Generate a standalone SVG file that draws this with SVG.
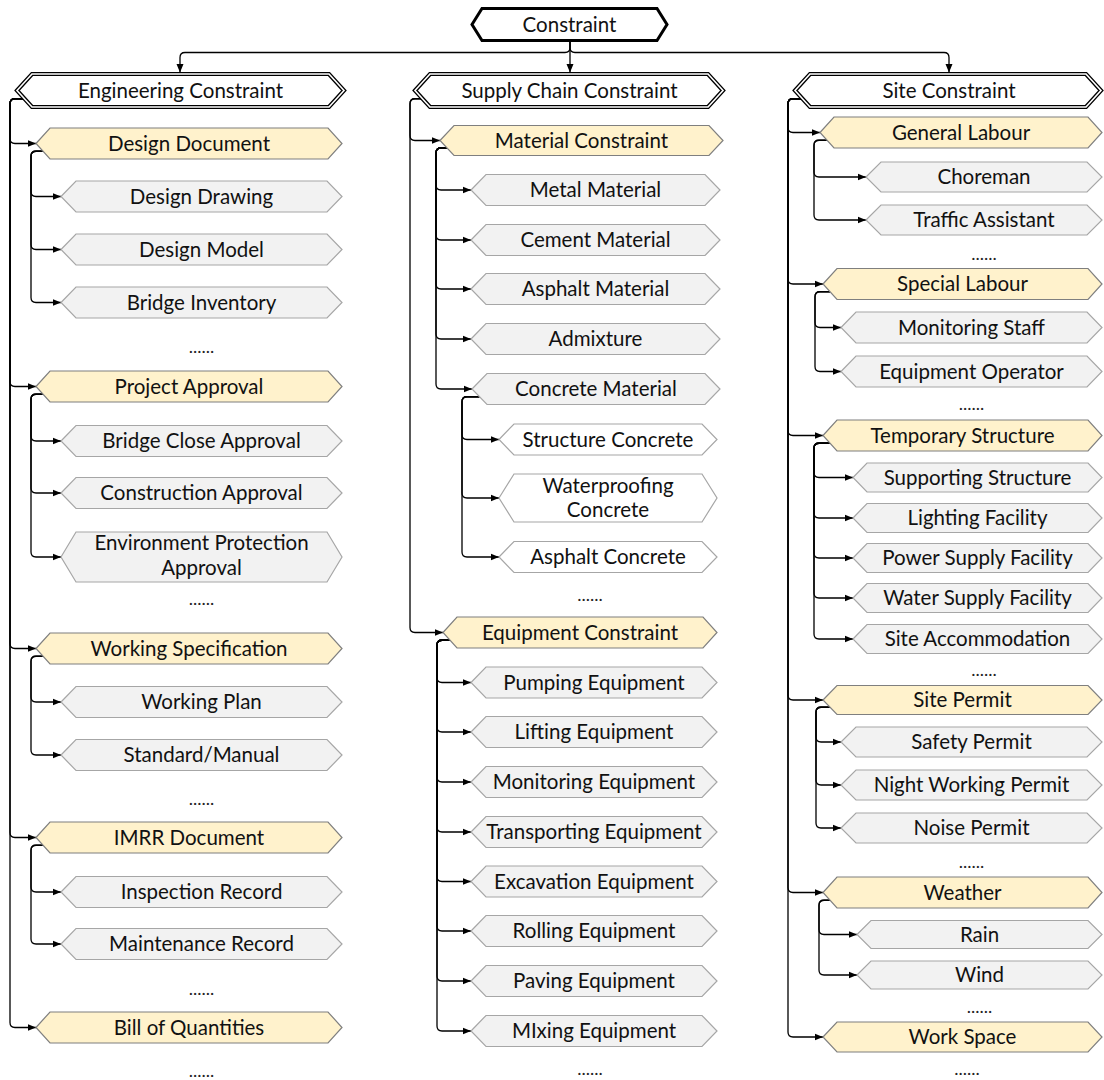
<svg xmlns="http://www.w3.org/2000/svg" width="1104" height="1080" viewBox="0 0 1104 1080">
  <defs>
    <marker id="arr" markerUnits="userSpaceOnUse" markerWidth="9" markerHeight="8" refX="8.5" refY="4" orient="auto">
      <path d="M0,0.5 L8.5,4 L0,7.5 z" fill="#000"/>
    </marker>
    <style>
      .root { fill: #fff; stroke: #000; stroke-width: 3; stroke-linejoin: miter; }
      .dbl-o { fill: #fff; stroke: #000; stroke-width: 4.2; }
      .dbl-i { fill: none; stroke: #fff; stroke-width: 1.6; }
      .y { fill: #FFF2CC; stroke: #7F7F7F; stroke-width: 1.2; }
      .g { fill: #F2F2F2; stroke: #A6A6A6; stroke-width: 1.2; }
      .w { fill: #FFFFFF; stroke: #A6A6A6; stroke-width: 1.2; }
      text { font-family: Lato, "Liberation Sans", sans-serif; font-size: 20.5px; fill: #111; text-anchor: middle; }
      .dots { font-size: 18px; fill: #222; }
      #links path { fill: none; stroke: #000; stroke-width: 1.3; marker-end: url(#arr); }
    </style>
  </defs>

  <!-- connectors -->
  <g id="links">
    <!-- root to the three constraint groups -->
    <path d="M570,40.5 V47.5 Q570,52.5 565,52.5 H185 Q180,52.5 180,57.5 V72.5"/>
    <path d="M570,40.5 V72.5"/>
    <path d="M570,40.5 V47.5 Q570,52.5 575,52.5 H944 Q949,52.5 949,57.5 V72.5"/>

    <!-- engineering constraint -->
    <path d="M24.5,98.75 H15 Q10,98.75 10,103.75 V138.5 Q10,143.5 15,143.5 H36"/>
    <path d="M24.5,98.75 H15 Q10,98.75 10,103.75 V381.5 Q10,386.5 15,386.5 H36"/>
    <path d="M24.5,98.75 H15 Q10,98.75 10,103.75 V643.5 Q10,648.5 15,648.5 H36"/>
    <path d="M24.5,98.75 H15 Q10,98.75 10,103.75 V832.5 Q10,837.5 15,837.5 H36"/>
    <path d="M24.5,98.75 H15 Q10,98.75 10,103.75 V1022.5 Q10,1027.5 15,1027.5 H36"/>

    <path d="M43,151.25 H36 Q31,151.25 31,156.25 V191.5 Q31,196.5 36,196.5 H61"/>
    <path d="M43,151.25 H36 Q31,151.25 31,156.25 V244.5 Q31,249.5 36,249.5 H61"/>
    <path d="M43,151.25 H36 Q31,151.25 31,156.25 V297.5 Q31,302.5 36,302.5 H61"/>

    <path d="M43,394.25 H36 Q31,394.25 31,399.25 V436 Q31,441 36,441 H61"/>
    <path d="M43,394.25 H36 Q31,394.25 31,399.25 V488 Q31,493 36,493 H61"/>
    <path d="M43,394.25 H36 Q31,394.25 31,399.25 V552 Q31,557 36,557 H61"/>

    <path d="M43,656.25 H36 Q31,656.25 31,661.25 V697 Q31,702 36,702 H61"/>
    <path d="M43,656.25 H36 Q31,656.25 31,661.25 V750 Q31,755 36,755 H61"/>

    <path d="M43,845.25 H36 Q31,845.25 31,850.25 V887 Q31,892 36,892 H61"/>
    <path d="M43,845.25 H36 Q31,845.25 31,850.25 V939 Q31,944 36,944 H61"/>

    <!-- supply chain constraint -->
    <path d="M422.5,98.75 H415 Q410,98.75 410,103.75 V135.5 Q410,140.5 415,140.5 H440"/>
    <path d="M422.5,98.75 H415 Q410,98.75 410,103.75 V627.5 Q410,632.5 415,632.5 H443"/>

    <path d="M447,148 H441 Q436,148 436,153 V185 Q436,190 441,190 H471"/>
    <path d="M447,148 H441 Q436,148 436,153 V235 Q436,240 441,240 H471"/>
    <path d="M447,148 H441 Q436,148 436,153 V284 Q436,289 441,289 H471"/>
    <path d="M447,148 H441 Q436,148 436,153 V334 Q436,339 441,339 H471"/>
    <path d="M447,148 H441 Q436,148 436,153 V384 Q436,389 441,389 H472"/>

    <path d="M479.5,396.75 H467 Q462,396.75 462,401.75 V434.5 Q462,439.5 467,439.5 H499"/>
    <path d="M479.5,396.75 H467 Q462,396.75 462,401.75 V493 Q462,498 467,498 H499"/>
    <path d="M479.5,396.75 H467 Q462,396.75 462,401.75 V552 Q462,557 467,557 H499"/>

    <path d="M450,640.25 H442 Q437,640.25 437,645.25 V677.5 Q437,682.5 442,682.5 H471"/>
    <path d="M450,640.25 H442 Q437,640.25 437,645.25 V727 Q437,732 442,732 H471"/>
    <path d="M450,640.25 H442 Q437,640.25 437,645.25 V777 Q437,782 442,782 H471"/>
    <path d="M450,640.25 H442 Q437,640.25 437,645.25 V827 Q437,832 442,832 H471"/>
    <path d="M450,640.25 H442 Q437,640.25 437,645.25 V876.5 Q437,881.5 442,881.5 H471"/>
    <path d="M450,640.25 H442 Q437,640.25 437,645.25 V926 Q437,931 442,931 H471"/>
    <path d="M450,640.25 H442 Q437,640.25 437,645.25 V976 Q437,981 442,981 H471"/>
    <path d="M450,640.25 H442 Q437,640.25 437,645.25 V1026 Q437,1031 442,1031 H471"/>

    <!-- site constraint -->
    <path d="M802.5,98.75 H793 Q788,98.75 788,103.75 V127.5 Q788,132.5 793,132.5 H820"/>
    <path d="M802.5,98.75 H793 Q788,98.75 788,103.75 V279 Q788,284 793,284 H823"/>
    <path d="M802.5,98.75 H793 Q788,98.75 788,103.75 V430.5 Q788,435.5 793,435.5 H823"/>
    <path d="M802.5,98.75 H793 Q788,98.75 788,103.75 V695 Q788,700 793,700 H823"/>
    <path d="M802.5,98.75 H793 Q788,98.75 788,103.75 V887.5 Q788,892.5 793,892.5 H823"/>
    <path d="M802.5,98.75 H793 Q788,98.75 788,103.75 V1032 Q788,1037 793,1037 H823"/>

    <path d="M827,140.25 H819 Q814,140.25 814,145.25 V172 Q814,177 819,177 H866"/>
    <path d="M827,140.25 H819 Q814,140.25 814,145.25 V215 Q814,220 819,220 H866"/>

    <path d="M830,291.75 H820 Q815,291.75 815,296.75 V322.5 Q815,327.5 820,327.5 H841"/>
    <path d="M830,291.75 H820 Q815,291.75 815,296.75 V366.5 Q815,371.5 820,371.5 H841"/>

    <path d="M830,443.25 H819 Q814,443.25 814,448.25 V472.5 Q814,477.5 819,477.5 H853"/>
    <path d="M830,443.25 H819 Q814,443.25 814,448.25 V513 Q814,518 819,518 H853"/>
    <path d="M830,443.25 H819 Q814,443.25 814,448.25 V553 Q814,558 819,558 H853"/>
    <path d="M830,443.25 H819 Q814,443.25 814,448.25 V593 Q814,598 819,598 H853"/>
    <path d="M830,443.25 H819 Q814,443.25 814,448.25 V634 Q814,639 819,639 H853"/>

    <path d="M830,707.25 H821 Q816,707.25 816,712.25 V737 Q816,742 821,742 H841"/>
    <path d="M830,707.25 H821 Q816,707.25 816,712.25 V780 Q816,785 821,785 H841"/>
    <path d="M830,707.25 H821 Q816,707.25 816,712.25 V823 Q816,828 821,828 H841"/>

    <path d="M830,900.25 H824 Q819,900.25 819,905.25 V929.5 Q819,934.5 824,934.5 H857"/>
    <path d="M830,900.25 H824 Q819,900.25 819,905.25 V970 Q819,975 824,975 H857"/>
  </g>

  <!-- root -->
  <g id="constraint">
    <polygon class="root" points="472,24.5 482,8.5 657,8.5 667,24.5 657,40.5 482,40.5"/>
    <text x="569.5" y="31.5">Constraint</text>
  </g>

  <!-- engineering constraint column -->
  <g id="engineering-constraint">
    <polygon class="dbl-o" points="17,90.5 32,74 329,74 344,90.5 329,107 32,107"/>
    <polygon class="dbl-i" points="17,90.5 32,74 329,74 344,90.5 329,107 32,107"/>
    <text x="180.5" y="97.5">Engineering Constraint</text>
  </g>
  <g id="design-document">
    <polygon class="y" points="36,143.5 50,128 328,128 342,143.5 328,159 50,159"/>
    <text x="189" y="150.5">Design Document</text>
  </g>
  <g id="design-drawing">
    <polygon class="g" points="61,196.5 76,181 327,181 342,196.5 327,212 76,212"/>
    <text x="201.5" y="203.5">Design Drawing</text>
  </g>
  <g id="design-model">
    <polygon class="g" points="61,249.5 76,234 327,234 342,249.5 327,265 76,265"/>
    <text x="201.5" y="256.5">Design Model</text>
  </g>
  <g id="bridge-inventory">
    <polygon class="g" points="61,302.5 76,287 327,287 342,302.5 327,318 76,318"/>
    <text x="201.5" y="309.5">Bridge Inventory</text>
  </g>
  <text class="dots" x="201.5" y="353">......</text>
  <g id="project-approval">
    <polygon class="y" points="36,386.5 50,371 328,371 342,386.5 328,402 50,402"/>
    <text x="189" y="393.5">Project Approval</text>
  </g>
  <g id="bridge-close-approval">
    <polygon class="g" points="61,441 76,425.5 327,425.5 342,441 327,456.5 76,456.5"/>
    <text x="201.5" y="448">Bridge Close Approval</text>
  </g>
  <g id="construction-approval">
    <polygon class="g" points="61,493 76,477.5 327,477.5 342,493 327,508.5 76,508.5"/>
    <text x="201.5" y="500">Construction Approval</text>
  </g>
  <g id="environment-protection-approval">
    <polygon class="g" points="61,557 76,532 327,532 342,557 327,582 76,582"/>
    <text x="201.5" y="549.5">Environment Protection</text>
    <text x="201.5" y="574.5">Approval</text>
  </g>
  <text class="dots" x="201.5" y="605">......</text>
  <g id="working-specification">
    <polygon class="y" points="36,648.5 50,633 328,633 342,648.5 328,664 50,664"/>
    <text x="189" y="655.5">Working Specification</text>
  </g>
  <g id="working-plan">
    <polygon class="g" points="61,702 76,686.5 327,686.5 342,702 327,717.5 76,717.5"/>
    <text x="201.5" y="709">Working Plan</text>
  </g>
  <g id="standard-manual">
    <polygon class="g" points="61,755 76,739.5 327,739.5 342,755 327,770.5 76,770.5"/>
    <text x="201.5" y="762">Standard/Manual</text>
  </g>
  <text class="dots" x="201.5" y="805">......</text>
  <g id="imrr-document">
    <polygon class="y" points="36,837.5 50,822 328,822 342,837.5 328,853 50,853"/>
    <text x="189" y="844.5">IMRR Document</text>
  </g>
  <g id="inspection-record">
    <polygon class="g" points="61,892 76,876.5 327,876.5 342,892 327,907.5 76,907.5"/>
    <text x="201.5" y="899">Inspection Record</text>
  </g>
  <g id="maintenance-record">
    <polygon class="g" points="61,944 76,928.5 327,928.5 342,944 327,959.5 76,959.5"/>
    <text x="201.5" y="951">Maintenance Record</text>
  </g>
  <text class="dots" x="201.5" y="995">......</text>
  <g id="bill-of-quantities">
    <polygon class="y" points="36,1027.5 50,1012 328,1012 342,1027.5 328,1043 50,1043"/>
    <text x="189" y="1034.5">Bill of Quantities</text>
  </g>
  <text class="dots" x="201.5" y="1077">......</text>

  <!-- supply chain constraint column -->
  <g id="supply-chain-constraint">
    <polygon class="dbl-o" points="415,90.5 430,74 708,74 723,90.5 708,107 430,107"/>
    <polygon class="dbl-i" points="415,90.5 430,74 708,74 723,90.5 708,107 430,107"/>
    <text x="569.5" y="97.5">Supply Chain Constraint</text>
  </g>
  <g id="material-constraint">
    <polygon class="y" points="440,140.5 454,125.5 709,125.5 723,140.5 709,155.5 454,155.5"/>
    <text x="581.5" y="147.5">Material Constraint</text>
  </g>
  <g id="metal-material">
    <polygon class="g" points="471,190 486,174.5 705,174.5 720,190 705,205.5 486,205.5"/>
    <text x="595.5" y="197">Metal Material</text>
  </g>
  <g id="cement-material">
    <polygon class="g" points="471,240 486,224.5 705,224.5 720,240 705,255.5 486,255.5"/>
    <text x="595.5" y="247">Cement Material</text>
  </g>
  <g id="asphalt-material">
    <polygon class="g" points="471,289 486,273.5 705,273.5 720,289 705,304.5 486,304.5"/>
    <text x="595.5" y="296">Asphalt Material</text>
  </g>
  <g id="admixture">
    <polygon class="g" points="471,339 486,323.5 705,323.5 720,339 705,354.5 486,354.5"/>
    <text x="595.5" y="346">Admixture</text>
  </g>
  <g id="concrete-material">
    <polygon class="g" points="472,389 487,373.5 705,373.5 720,389 705,404.5 487,404.5"/>
    <text x="596" y="396">Concrete Material</text>
  </g>
  <g id="structure-concrete">
    <polygon class="w" points="499,439.5 514,424 702,424 717,439.5 702,455 514,455"/>
    <text x="608" y="446.5">Structure Concrete</text>
  </g>
  <g id="waterproofing-concrete">
    <polygon class="w" points="499,498 514,474 702,474 717,498 702,522 514,522"/>
    <text x="608" y="492.5">Waterproofing</text>
    <text x="608" y="517">Concrete</text>
  </g>
  <g id="asphalt-concrete">
    <polygon class="w" points="499,557 514,541.5 702,541.5 717,557 702,572.5 514,572.5"/>
    <text x="608" y="564">Asphalt Concrete</text>
  </g>
  <text class="dots" x="590" y="601">......</text>
  <g id="equipment-constraint">
    <polygon class="y" points="443,632.5 457,617 703,617 717,632.5 703,648 457,648"/>
    <text x="580" y="639.5">Equipment Constraint</text>
  </g>
  <g id="pumping-equipment">
    <polygon class="g" points="471,682.5 486,667 702,667 717,682.5 702,698 486,698"/>
    <text x="594" y="689.5">Pumping Equipment</text>
  </g>
  <g id="lifting-equipment">
    <polygon class="g" points="471,732 486,716.5 702,716.5 717,732 702,747.5 486,747.5"/>
    <text x="594" y="739">Lifting Equipment</text>
  </g>
  <g id="monitoring-equipment">
    <polygon class="g" points="471,782 486,766.5 702,766.5 717,782 702,797.5 486,797.5"/>
    <text x="594" y="789">Monitoring Equipment</text>
  </g>
  <g id="transporting-equipment">
    <polygon class="g" points="471,832 486,816.5 702,816.5 717,832 702,847.5 486,847.5"/>
    <text x="594" y="839">Transporting Equipment</text>
  </g>
  <g id="excavation-equipment">
    <polygon class="g" points="471,881.5 486,866 702,866 717,881.5 702,897 486,897"/>
    <text x="594" y="888.5">Excavation Equipment</text>
  </g>
  <g id="rolling-equipment">
    <polygon class="g" points="471,931 486,915.5 702,915.5 717,931 702,946.5 486,946.5"/>
    <text x="594" y="938">Rolling Equipment</text>
  </g>
  <g id="paving-equipment">
    <polygon class="g" points="471,981 486,965.5 702,965.5 717,981 702,996.5 486,996.5"/>
    <text x="594" y="988">Paving Equipment</text>
  </g>
  <g id="mixing-equipment">
    <polygon class="g" points="471,1031 486,1015.5 702,1015.5 717,1031 702,1046.5 486,1046.5"/>
    <text x="594" y="1038">MIxing Equipment</text>
  </g>
  <text class="dots" x="590" y="1075">......</text>

  <!-- site constraint column -->
  <g id="site-constraint">
    <polygon class="dbl-o" points="795,90.5 810,74 1086,74 1101,90.5 1086,107 810,107"/>
    <polygon class="dbl-i" points="795,90.5 810,74 1086,74 1101,90.5 1086,107 810,107"/>
    <text x="949" y="97.5">Site Constraint</text>
  </g>
  <g id="general-labour">
    <polygon class="y" points="820,132.5 834,117 1088,117 1102,132.5 1088,148 834,148"/>
    <text x="961" y="139.5">General Labour</text>
  </g>
  <g id="choreman">
    <polygon class="g" points="866,177 881,162 1087,162 1102,177 1087,192 881,192"/>
    <text x="984" y="184">Choreman</text>
  </g>
  <g id="traffic-assistant">
    <polygon class="g" points="866,220 881,205 1087,205 1102,220 1087,235 881,235"/>
    <text x="984" y="227">Traffic Assistant</text>
  </g>
  <text class="dots" x="984" y="260">......</text>
  <g id="special-labour">
    <polygon class="y" points="823,284 837,268.5 1088,268.5 1102,284 1088,299.5 837,299.5"/>
    <text x="962.5" y="291">Special Labour</text>
  </g>
  <g id="monitoring-staff">
    <polygon class="g" points="841,327.5 856,312 1087,312 1102,327.5 1087,343 856,343"/>
    <text x="971.5" y="334.5">Monitoring Staff</text>
  </g>
  <g id="equipment-operator">
    <polygon class="g" points="841,371.5 856,356 1087,356 1102,371.5 1087,387 856,387"/>
    <text x="971.5" y="378.5">Equipment Operator</text>
  </g>
  <text class="dots" x="971.5" y="410">......</text>
  <g id="temporary-structure">
    <polygon class="y" points="823,435.5 837,420 1088,420 1102,435.5 1088,451 837,451"/>
    <text x="962.5" y="442.5">Temporary Structure</text>
  </g>
  <g id="supporting-structure">
    <polygon class="g" points="853,477.5 867,463 1088,463 1102,477.5 1088,492 867,492"/>
    <text x="977.5" y="484.5">Supporting Structure</text>
  </g>
  <g id="lighting-facility">
    <polygon class="g" points="853,518 867,503.5 1088,503.5 1102,518 1088,532.5 867,532.5"/>
    <text x="977.5" y="525">Lighting Facility</text>
  </g>
  <g id="power-supply-facility">
    <polygon class="g" points="853,558 867,543.5 1088,543.5 1102,558 1088,572.5 867,572.5"/>
    <text x="977.5" y="565">Power Supply Facility</text>
  </g>
  <g id="water-supply-facility">
    <polygon class="g" points="853,598 867,583.5 1088,583.5 1102,598 1088,612.5 867,612.5"/>
    <text x="977.5" y="605">Water Supply Facility</text>
  </g>
  <g id="site-accommodation">
    <polygon class="g" points="853,639 867,624.5 1088,624.5 1102,639 1088,653.5 867,653.5"/>
    <text x="977.5" y="646">Site Accommodation</text>
  </g>
  <text class="dots" x="984" y="676">......</text>
  <g id="site-permit">
    <polygon class="y" points="823,700 837,685.5 1088,685.5 1102,700 1088,714.5 837,714.5"/>
    <text x="962.5" y="707">Site Permit</text>
  </g>
  <g id="safety-permit">
    <polygon class="g" points="841,742 856,727 1087,727 1102,742 1087,757 856,757"/>
    <text x="971.5" y="749">Safety Permit</text>
  </g>
  <g id="night-working-permit">
    <polygon class="g" points="841,785 856,770 1087,770 1102,785 1087,800 856,800"/>
    <text x="971.5" y="792">Night Working Permit</text>
  </g>
  <g id="noise-permit">
    <polygon class="g" points="841,828 856,813 1087,813 1102,828 1087,843 856,843"/>
    <text x="971.5" y="835">Noise Permit</text>
  </g>
  <text class="dots" x="971.5" y="868">......</text>
  <g id="weather">
    <polygon class="y" points="823,892.5 837,877 1088,877 1102,892.5 1088,908 837,908"/>
    <text x="962.5" y="899.5">Weather</text>
  </g>
  <g id="rain">
    <polygon class="g" points="857,934.5 871,920.5 1088,920.5 1102,934.5 1088,948.5 871,948.5"/>
    <text x="979.5" y="941.5">Rain</text>
  </g>
  <g id="wind">
    <polygon class="g" points="857,975 871,961 1088,961 1102,975 1088,989 871,989"/>
    <text x="979.5" y="982">Wind</text>
  </g>
  <text class="dots" x="979.5" y="1013">......</text>
  <g id="work-space">
    <polygon class="y" points="823,1037 837,1022 1088,1022 1102,1037 1088,1052 837,1052"/>
    <text x="962.5" y="1044">Work Space</text>
  </g>
  <text class="dots" x="967" y="1075">......</text>
</svg>
